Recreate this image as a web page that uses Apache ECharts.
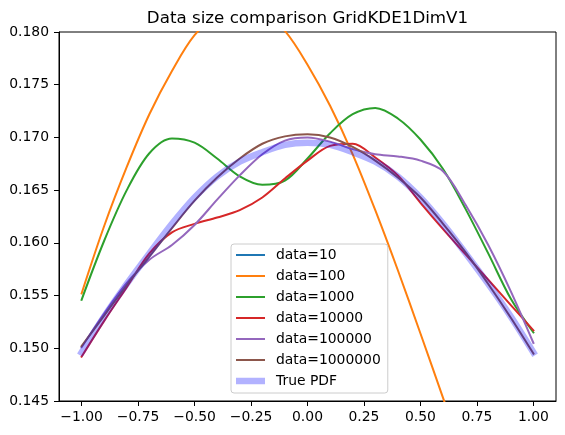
<!DOCTYPE html>
<html>
<head>
<meta charset="utf-8">
<script src="https://cdn.jsdelivr.net/npm/echarts@6/dist/echarts.min.js"></script>
<style>
html,body{margin:0;padding:0;background:#fff;}
#chart{width:565px;height:435px;}
</style>
</head>
<body>
<div id="chart"></div>
<script>
// ---- data ----
var titleText = 'Data size comparison GridKDE1DimV1';
var xs = [-1.0,-0.9,-0.8,-0.7,-0.6,-0.5,-0.4,-0.3,-0.2,-0.1,0.0,0.1,0.2,0.3,0.4,0.5,0.6,0.7,0.8,0.9,1.0];
var seriesNames = ['data=10','data=100','data=1000','data=10000','data=100000','data=1000000','True PDF'];
// data=10 lies entirely outside the visible range in the reference
var data10      = [0.231,0.238,0.236,0.219,0.204,0.197,0.199,0.206,0.214,0.218,0.215,0.206,0.197,0.192,0.193,0.199,0.207,0.211,0.208,0.199,0.188];
var data100     = [0.1552,0.1616,0.1672,0.1722,0.1763,0.1797,0.1815,0.1823,0.1819,0.1801,0.1769,0.1730,0.1684,0.1631,0.1574,0.1514,0.1453,0.1392,0.1332,0.1274,0.1218];
var data1000    = [0.1546,0.1602,0.1650,0.1685,0.1699,0.1695,0.1680,0.1663,0.1655,0.1659,0.1680,0.1704,0.1722,0.1728,0.1718,0.1698,0.1670,0.1632,0.1590,0.1547,0.1515];
var data10000   = [0.1492,0.1526,0.1558,0.1590,0.1610,0.1618,0.1624,0.1631,0.1643,0.1661,0.1678,0.1692,0.1694,0.1681,0.1664,0.1638,0.1613,0.1589,0.1565,0.1541,0.1517];
var data100000  = [0.1501,0.1533,0.1562,0.1584,0.1598,0.1617,0.1641,0.1664,0.1684,0.1697,0.1700,0.1696,0.1689,0.1684,0.1682,0.1678,0.1668,0.1636,0.1598,0.1554,0.1505];
var data1000000 = [0.1502,0.1531,0.1560,0.1587,0.1614,0.1640,0.1662,0.1680,0.1694,0.1701,0.1703,0.1700,0.1691,0.1678,0.1662,0.1643,0.1618,0.1591,0.1561,0.1529,0.1495];
var truePdf     = [0.1496,0.1530,0.1561,0.1590,0.1618,0.1643,0.1663,0.1677,0.1686,0.1693,0.1695,0.1693,0.1686,0.1677,0.1663,0.1643,0.1618,0.1590,0.1561,0.1530,0.1496];
var xTicks = [-1.0,-0.75,-0.5,-0.25,0.0,0.25,0.5,0.75,1.0];
var yMin = 0.145, yMax = 0.180, yStep = 0.005;

var colors = ['#1f77b4','#ff7f0e','#2ca02c','#d62728','#9467bd','#8c564b','rgba(0,0,255,0.3)'];
var allData = [data10,data100,data1000,data10000,data100000,data1000000,truePdf];

function pairs(arr){ return xs.map(function(x,i){ return [x, arr[i]]; }); }
function fmt(v, d){ var s = Math.abs(v).toFixed(d); return (v < -1e-9 ? '\u2212' : '') + s; }

var font = 'DejaVu Sans';
var thinIcon = 'path://M0,0L29,0L29,2L0,2Z';
var thickIcon = 'path://M0,0L29,0L29,6.5L0,6.5Z';

var series = allData.map(function(arr, i){
  var isPdf = (i === 6);
  return {
    name: seriesNames[i],
    type: 'line',
    data: pairs(arr),
    smooth: 0.33,
    symbol: 'none',
    clip: true,
    lineStyle: { color: colors[i], width: isPdf ? 6.5 : 2, cap: 'square' },
    itemStyle: { color: colors[i] },
    z: 2 + i
  };
});

var chart = echarts.init(document.getElementById('chart'), null, {renderer:'canvas'});
chart.setOption({
  animation: false,
  backgroundColor: '#ffffff',
  title: {
    text: titleText,
    left: 307.5,
    textAlign: 'center',
    top: 10,
    padding: 0,
    textStyle: { fontFamily: font, fontSize: 16.7, fontWeight: 'normal', color: '#000' }
  },
  grid: {
    left: 59, right: 9, top: 32, bottom: 34,
    show: true, borderColor: '#000', borderWidth: 1, backgroundColor: 'transparent'
  },
  legend: {
    orient: 'vertical',
    left: 231, top: 244,
    padding: [4, 7, 5, 5],
    itemWidth: 29, itemHeight: 14, itemGap: 7,
    symbolKeepAspect: true,
    backgroundColor: 'rgba(255,255,255,0.8)',
    borderColor: '#cccccc', borderWidth: 1, borderRadius: 3,
    textStyle: { fontFamily: font, fontSize: 13.9, color: '#000', padding: [0,0,0,6] },
    data: seriesNames.map(function(n, i){
      return { name: n, icon: i === 6 ? thickIcon : thinIcon };
    })
  },
  xAxis: {
    type: 'value',
    min: -1.1, max: 1.1,
    axisLine: { show: true, onZero: false, lineStyle: { color: '#000', width: 1 } },
    axisTick: { show: true, length: 5, lineStyle: { color: '#000', width: 1 }, customValues: xTicks },
    axisLabel: { customValues: xTicks, margin: 9, color: '#000', fontFamily: font, fontSize: 13.9,
      formatter: function(v){ return fmt(v, 2); } },
    splitLine: { show: false }
  },
  yAxis: {
    type: 'value',
    min: yMin, max: yMax, interval: yStep,
    axisLine: { show: true, onZero: false, lineStyle: { color: '#000', width: 1 } },
    axisTick: { show: true, length: 5, lineStyle: { color: '#000', width: 1 } },
    axisLabel: { margin: 10, color: '#000', fontFamily: font, fontSize: 13.9,
      formatter: function(v){ return fmt(v, 3); } },
    splitLine: { show: false }
  },
  series: series
});
</script>
</body>
</html>
